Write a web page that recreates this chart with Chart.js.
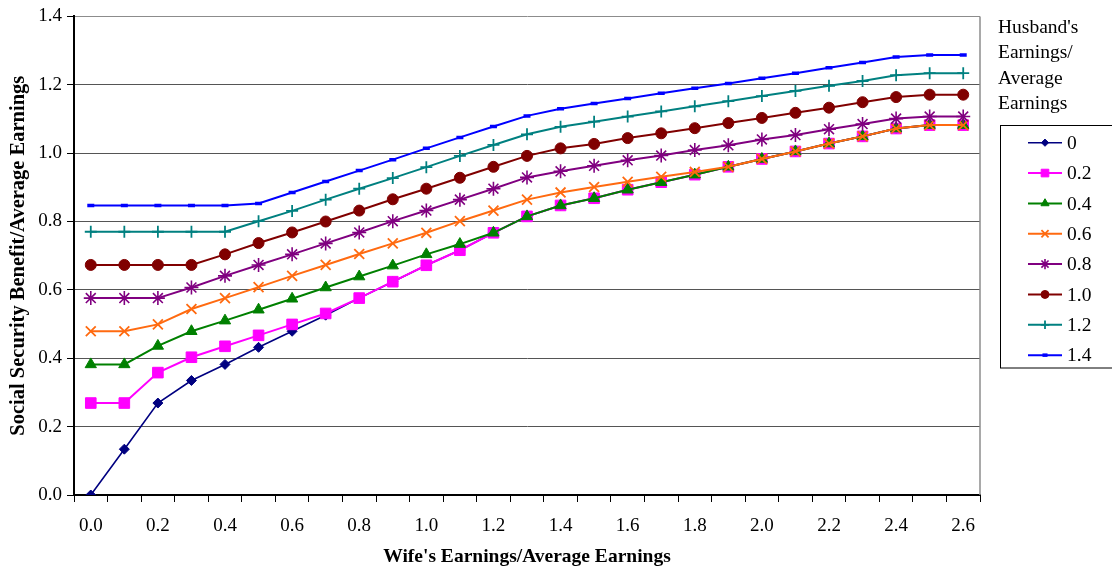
<!DOCTYPE html>
<html>
<head>
<meta charset="utf-8">
<script src="https://cdn.jsdelivr.net/npm/chart.js@4.4.1/dist/chart.umd.min.js"></script>
<style>
  html, body { margin: 0; padding: 0; background: #ffffff; }
  #wrap { width: 1112px; height: 571px; }
</style>
</head>
<body>
<div id="wrap"><canvas id="benefitChart" width="1112" height="571"></canvas></div>
<script>
// Wife's earnings relative to average earnings (x categories)
const wifeEarnings = ['0.0','0.1','0.2','0.3','0.4','0.5','0.6','0.7','0.8','0.9',
                      '1.0','1.1','1.2','1.3','1.4','1.5','1.6','1.7','1.8','1.9',
                      '2.0','2.1','2.2','2.3','2.4','2.5','2.6'];
// Only every other category carries a printed label
const xTickLabels = ['0.0','0.2','0.4','0.6','0.8','1.0','1.2','1.4','1.6','1.8','2.0','2.2','2.4','2.6'];

// Husband's earnings / average earnings (one line per level)
const husbandLevels = ['0','0.2','0.4','0.6','0.8','1.0','1.2','1.4'];
const legendTitle = ["Husband's", 'Earnings/', 'Average', 'Earnings'];

// Social security benefit / average earnings for each husband level
const h00 = [0.000,0.134,0.269,0.335,0.382,0.432,0.479,0.526,0.576,0.624,0.672,0.716,0.767,0.815,0.847,0.868,0.893,0.915,0.937,0.960,0.983,1.005,1.028,1.049,1.072,1.082,1.082];
const h02 = [0.269,0.269,0.358,0.403,0.435,0.467,0.499,0.531,0.576,0.624,0.672,0.716,0.767,0.815,0.847,0.868,0.893,0.915,0.937,0.960,0.983,1.005,1.028,1.049,1.072,1.082,1.082];
const h04 = [0.382,0.382,0.436,0.479,0.510,0.542,0.574,0.607,0.639,0.671,0.704,0.734,0.767,0.815,0.847,0.868,0.893,0.915,0.937,0.960,0.983,1.005,1.028,1.049,1.072,1.082,1.082];
const h06 = [0.479,0.479,0.499,0.544,0.576,0.608,0.641,0.673,0.705,0.736,0.767,0.801,0.832,0.864,0.885,0.901,0.916,0.931,0.945,0.960,0.983,1.005,1.028,1.049,1.072,1.082,1.082];
const h08 = [0.576,0.576,0.576,0.607,0.641,0.673,0.704,0.736,0.768,0.801,0.832,0.864,0.896,0.929,0.947,0.963,0.979,0.993,1.009,1.023,1.040,1.053,1.070,1.085,1.101,1.107,1.107];
const h10 = [0.673,0.673,0.673,0.673,0.704,0.737,0.768,0.800,0.832,0.865,0.896,0.928,0.960,0.992,1.014,1.027,1.044,1.058,1.073,1.088,1.103,1.118,1.133,1.149,1.164,1.171,1.171];
const h12 = [0.770,0.770,0.770,0.770,0.770,0.801,0.831,0.864,0.896,0.927,0.959,0.992,1.024,1.055,1.077,1.092,1.107,1.122,1.137,1.152,1.167,1.182,1.197,1.211,1.228,1.234,1.234];
const h14 = [0.847,0.847,0.847,0.847,0.847,0.853,0.885,0.917,0.949,0.981,1.014,1.046,1.078,1.109,1.130,1.145,1.160,1.175,1.190,1.204,1.219,1.234,1.250,1.265,1.281,1.287,1.287];

const seriesValues = [h00, h02, h04, h06, h08, h10, h12, h14];

// Line and marker styling per series
const seriesStyles = [
  { color: '#000080', marker: 'rectRot',  radius: 5,   width: 1.6, pointWidth: 1 },
  { color: '#FF00FF', marker: 'rect',     radius: 7.5, width: 2,   pointWidth: 1 },
  { color: '#008000', marker: 'triangle', radius: 6.5, width: 2,   pointWidth: 1 },
  { color: '#FF6A10', marker: 'crossRot', radius: 7,   width: 2,   pointWidth: 1.8 },
  { color: '#800080', marker: 'star',     radius: 7,   width: 2,   pointWidth: 1.6 },
  { color: '#800000', marker: 'circle',   radius: 5.5, width: 2,   pointWidth: 1 },
  { color: '#008080', marker: 'cross',    radius: 6,   width: 2,   pointWidth: 1.8 },
  { color: '#0000FF', marker: 'line',     radius: 3.5, width: 2,   pointWidth: 3.5 }
];

const SERIF = '"Liberation Serif", "Times New Roman", serif';

const datasets = husbandLevels.map((name, i) => {
  const s = seriesStyles[i];
  return {
    label: name,
    data: seriesValues[i],
    borderColor: s.color,
    backgroundColor: s.color,
    borderWidth: s.width,
    pointStyle: s.marker,
    pointRadius: s.radius,
    pointHoverRadius: s.radius,
    pointBackgroundColor: s.color,
    pointBorderColor: s.color,
    pointBorderWidth: s.pointWidth,
    tension: 0,
    fill: false,
    // later series are painted over earlier ones
    order: husbandLevels.length - i
  };
});

// Right-hand frame line plus the boxed legend with its multi-line title
const frameAndLegend = {
  id: 'frameAndLegend',
  beforeDatasetsDraw(chart) {
    const { ctx, chartArea } = chart;
    ctx.save();
    ctx.strokeStyle = '#8c8c8c';
    ctx.lineWidth = 1.5;
    ctx.beginPath();
    ctx.moveTo(chartArea.right, chartArea.top);
    ctx.lineTo(chartArea.right, chartArea.bottom);
    ctx.stroke();
    ctx.restore();
  },
  afterDraw(chart) {
    const ctx = chart.ctx;
    ctx.save();
    ctx.fillStyle = '#000';
    ctx.font = '19.5px ' + SERIF;
    ctx.textAlign = 'left';
    ctx.textBaseline = 'middle';
    legendTitle.forEach((t, i) => ctx.fillText(t, 998, 28 + i * 25.2));

    ctx.strokeStyle = '#000';
    ctx.lineWidth = 1;
    ctx.strokeRect(1000.5, 125.5, 114, 242.5);

    chart.data.datasets.forEach((ds, i) => {
      const y = 142.7 + i * 30.35;
      ctx.strokeStyle = ds.borderColor;
      ctx.lineWidth = ds.borderWidth;
      ctx.beginPath();
      ctx.moveTo(1028, y);
      ctx.lineTo(1062, y);
      ctx.stroke();

      ctx.fillStyle = ds.pointBackgroundColor;
      ctx.strokeStyle = ds.pointBorderColor;
      ctx.lineWidth = ds.pointBorderWidth;
      Chart.helpers.drawPoint(ctx, {
        pointStyle: ds.pointStyle,
        radius: ds.pointRadius * 0.72,
        rotation: 0,
        borderWidth: ds.pointBorderWidth
      }, 1045, y);

      ctx.fillStyle = '#000';
      ctx.font = '19.5px ' + SERIF;
      ctx.fillText(ds.label, 1067, y + 1);
    });
    ctx.restore();
  }
};

new Chart(document.getElementById('benefitChart'), {
  type: 'line',
  data: { labels: wifeEarnings, datasets },
  plugins: [frameAndLegend],
  options: {
    responsive: false,
    animation: false,
    devicePixelRatio: 1,
    layout: { padding: { top: 13, right: 132, bottom: 0, left: 0 } },
    plugins: {
      legend: { display: false },
      tooltip: { enabled: false }
    },
    scales: {
      x: {
        type: 'category',
        offset: true,
        afterFit(scale) { scale.height = 76; },
        grid: {
          offset: true,
          drawOnChartArea: false,
          drawTicks: true,
          tickLength: 7,
          tickColor: '#000',
          tickWidth: 1
        },
        border: { display: true, color: '#000', width: 2 },
        ticks: {
          autoSkip: false,
          maxRotation: 0,
          minRotation: 0,
          padding: 13,
          color: '#000',
          font: { family: SERIF, size: 19 },
          callback(value, index) {
            const label = wifeEarnings[index];
            return xTickLabels.includes(label) ? label : '';
          }
        },
        title: {
          display: true,
          text: "Wife's Earnings/Average Earnings",
          color: '#000',
          font: { family: SERIF, size: 19.5, weight: 'bold' },
          padding: { top: 0, bottom: 2 }
        }
      },
      y: {
        min: 0,
        max: 1.4,
        afterFit(scale) { scale.width = 74; },
        grid: {
          color: (c) => (c.tick && Math.abs(c.tick.value - 1.4) < 1e-6) ? '#8c8c8c' : '#555555',
          lineWidth: 1,
          drawTicks: true,
          tickLength: 7,
          tickColor: '#000',
          tickWidth: 1
        },
        border: { display: true, color: '#000', width: 2 },
        ticks: {
          stepSize: 0.2,
          padding: 5,
          color: '#000',
          font: { family: SERIF, size: 19 },
          callback(value) { return Number(value).toFixed(1); }
        },
        title: {
          display: true,
          text: 'Social Security Benefit/Average Earnings',
          color: '#000',
          font: { family: SERIF, size: 20.5, weight: 'bold' },
          padding: { top: 6, bottom: 0 }
        }
      }
    }
  }
});
</script>
</body>
</html>
